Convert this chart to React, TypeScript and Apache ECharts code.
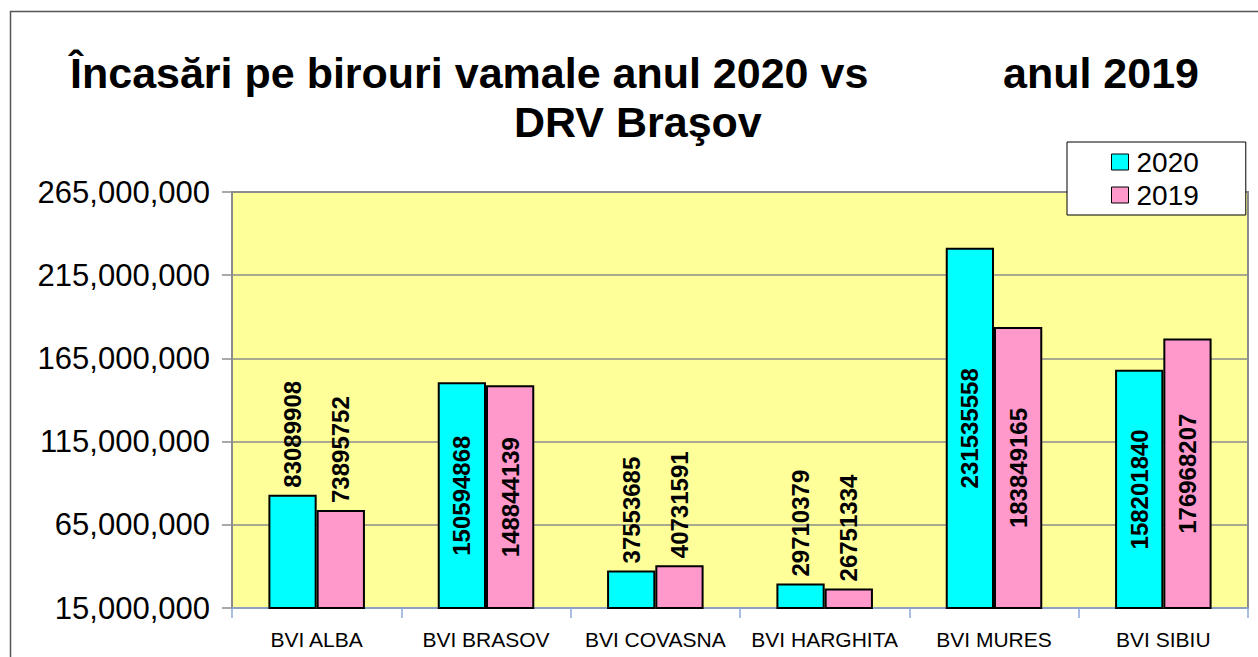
import React, { useEffect, useRef } from "react";
import * as echarts from "echarts";

const categories = ["BVI ALBA", "BVI BRASOV", "BVI COVASNA", "BVI HARGHITA", "BVI MURES", "BVI SIBIU"];
const values2020 = [83089908, 150594868, 37553685, 29710379, 231535558, 158201840];
const values2019 = [73895752, 148844139, 40731591, 26751334, 183849165, 176968207];
const yTicks = [15000000, 65000000, 115000000, 165000000, 215000000, 265000000];
const seriesNames = ["2020", "2019"];

const FONT = "'Liberation Sans', Arial, sans-serif";

function makeData(vals: number[]) {
  return vals.map((v) => {
    const outside = v < 100000000;
    return {
      value: v,
      label: outside
        ? { position: "top", distance: 7, align: "left", verticalAlign: "middle" }
        : { position: "inside", align: "center", verticalAlign: "middle" },
    };
  });
}

export default function App() {
  const ref = useRef<HTMLDivElement>(null);
  useEffect(() => {
    if (!ref.current) return;
    const chart = echarts.init(ref.current, null, { renderer: "svg" });
    const labelBase = {
      show: true,
      rotate: 90,
      fontFamily: FONT,
      fontSize: 24,
      fontWeight: "bold",
      color: "#000",
    };
    const titleStyle = { fontFamily: FONT, fontSize: 43, fontWeight: "bold", color: "#000", lineHeight: 43 };
    chart.setOption({
      animation: false,
      backgroundColor: "#fff",
      title: [
        { text: "Încasări pe birouri vamale anul 2020 vs", left: 70, top: 51, padding: 0, textStyle: titleStyle },
        { text: "anul 2019", left: 1003, top: 51, padding: 0, textStyle: titleStyle },
        { text: "DRV Braşov", left: 514, top: 100, padding: 0, textStyle: titleStyle },
      ],
      graphic: [
        {
          type: "rect",
          shape: { x: 10.5, y: 11.5, width: 1300, height: 700 },
          style: { fill: "none", stroke: "#555", lineWidth: 1.5 },
          silent: true,
          z: -1,
        },
      ],
      legend: {
        orient: "vertical",
        left: 1067,
        top: 142,
        padding: [6, 47, 6, 44],
        itemGap: 5,
        itemWidth: 17,
        itemHeight: 16,
        icon: "rect",
        backgroundColor: "#fff",
        borderColor: "#000",
        borderWidth: 1,
        borderRadius: 0,
        itemStyle: { borderColor: "#000", borderWidth: 1 },
        textStyle: { fontFamily: FONT, fontSize: 28, color: "#000", padding: [0, 0, 0, 3] },
        data: seriesNames,
        z: 10,
      },
      grid: {
        left: 232,
        right: 10,
        top: 192,
        bottom: 49,
        show: true,
        backgroundColor: "#FFFF99",
        borderColor: "#8c8c8c",
        borderWidth: 2,
      },
      xAxis: {
        type: "category",
        data: categories,
        boundaryGap: true,
        axisLine: { show: true, lineStyle: { color: "#8EA9DB", width: 1.5 } },
        axisTick: { show: true, length: 10, lineStyle: { color: "#8EA9DB", width: 1.5 } },
        axisLabel: { interval: 0, fontFamily: FONT, fontSize: 21, color: "#000", margin: 21 },
        splitLine: { show: false },
      },
      yAxis: {
        type: "value",
        min: 15000000,
        max: 265000000,
        axisLine: { show: true, lineStyle: { color: "#8c8c8c", width: 2 } },
        axisTick: { show: true, length: 10, customValues: yTicks, lineStyle: { color: "#8c8c8c", width: 1.5 } },
        axisLabel: {
          customValues: yTicks,
          fontFamily: FONT,
          fontSize: 31,
          color: "#000",
          margin: 22,
          formatter: (v: number) => v.toLocaleString("en-US"),
        },
        splitLine: { show: true, lineStyle: { color: "#8c8c8c", width: 1.5 } },
      },
      series: [
        {
          name: seriesNames[0],
          type: "bar",
          data: makeData(values2020),
          barGap: "0%",
          barCategoryGap: "43%",
          itemStyle: { color: "#00FFFF", borderColor: "#000", borderWidth: 2 },
          label: labelBase,
        },
        {
          name: seriesNames[1],
          type: "bar",
          data: makeData(values2019),
          barGap: "0%",
          barCategoryGap: "43%",
          itemStyle: { color: "#FF99CC", borderColor: "#000", borderWidth: 2 },
          label: labelBase,
        },
      ],
    });
    return () => chart.dispose();
  }, []);
  return (
    <div
      ref={ref}
      style={{ position: "fixed", left: 0, top: 0, width: 1258, height: 657 }}
    />
  );
}
